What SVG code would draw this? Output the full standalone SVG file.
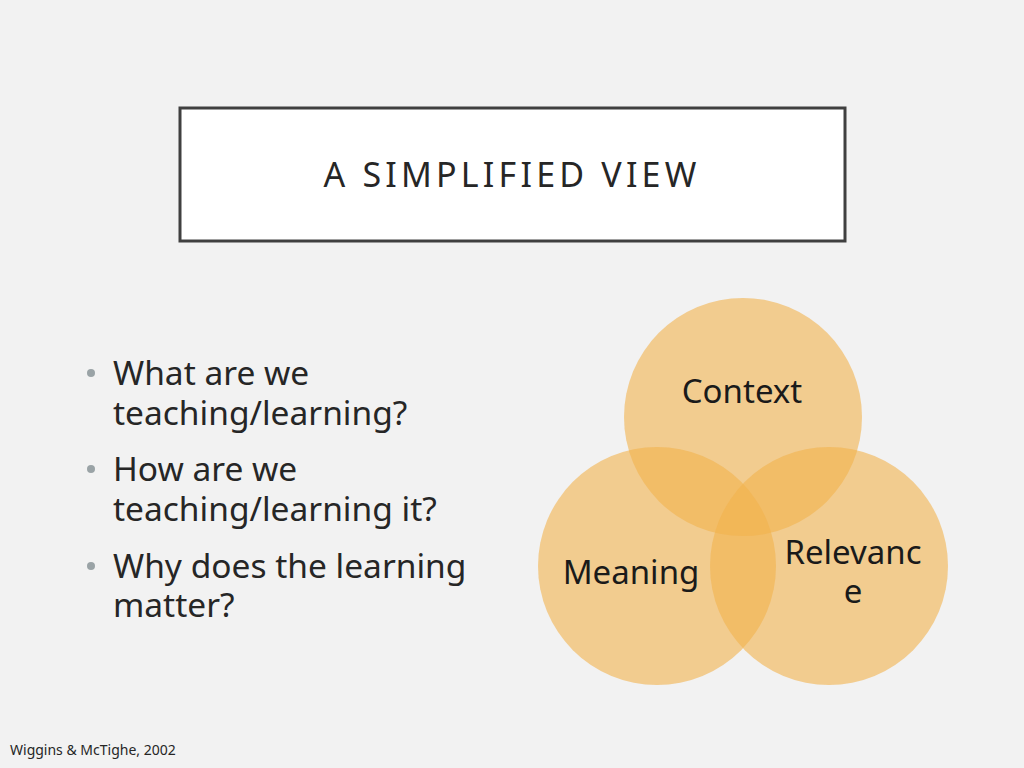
<svg xmlns="http://www.w3.org/2000/svg" width="1024" height="768" viewBox="0 0 1024 768">
<style>
text{font-family:"Noto Sans","Open Sans",sans-serif;fill:#262626}
.b{font-size:33.5px}
.dot{fill:#9aa3a6}
.c{fill:#f2b24c;fill-opacity:0.6}
.l{font-size:33px;fill:#1a1a1a}
</style>
<rect width="1024" height="768" fill="#f2f2f2"/>
<g id="title"><rect x="180" y="108" width="665" height="133" fill="#fff" stroke="#404040" stroke-width="3"/>
<text x="512" y="187" font-size="34" text-anchor="middle" letter-spacing="4.2">A SIMPLIFIED VIEW</text></g>
<g id="bullets">
<circle class="dot" cx="91" cy="373" r="4"/><circle class="dot" cx="91" cy="469" r="4"/><circle class="dot" cx="91" cy="566" r="4"/>
<text class="b" x="113" y="385">What are we</text>
<text class="b" x="113" y="425">teaching/learning?</text>
<text class="b" x="113" y="481">How are we</text>
<text class="b" x="113" y="521">teaching/learning it?</text>
<text class="b" x="113" y="578">Why does the learning</text>
<text class="b" x="113" y="617">matter?</text>
</g>
<g id="context"><circle class="c" cx="743" cy="417" r="119"/><text class="l" x="742" y="403" text-anchor="middle">Context</text></g>
<g id="meaning"><circle class="c" cx="657" cy="566" r="119"/><text class="l" x="631" y="584" text-anchor="middle">Meaning</text></g>
<g id="relevance"><circle class="c" cx="829" cy="566" r="119"/><text class="l" x="853" y="564" text-anchor="middle">Relevanc</text><text class="l" x="853" y="603" text-anchor="middle">e</text></g>
<g id="connectors"/>
<text x="10" y="755" font-size="14" fill="#000">Wiggins &amp; McTighe, 2002</text>
</svg>
